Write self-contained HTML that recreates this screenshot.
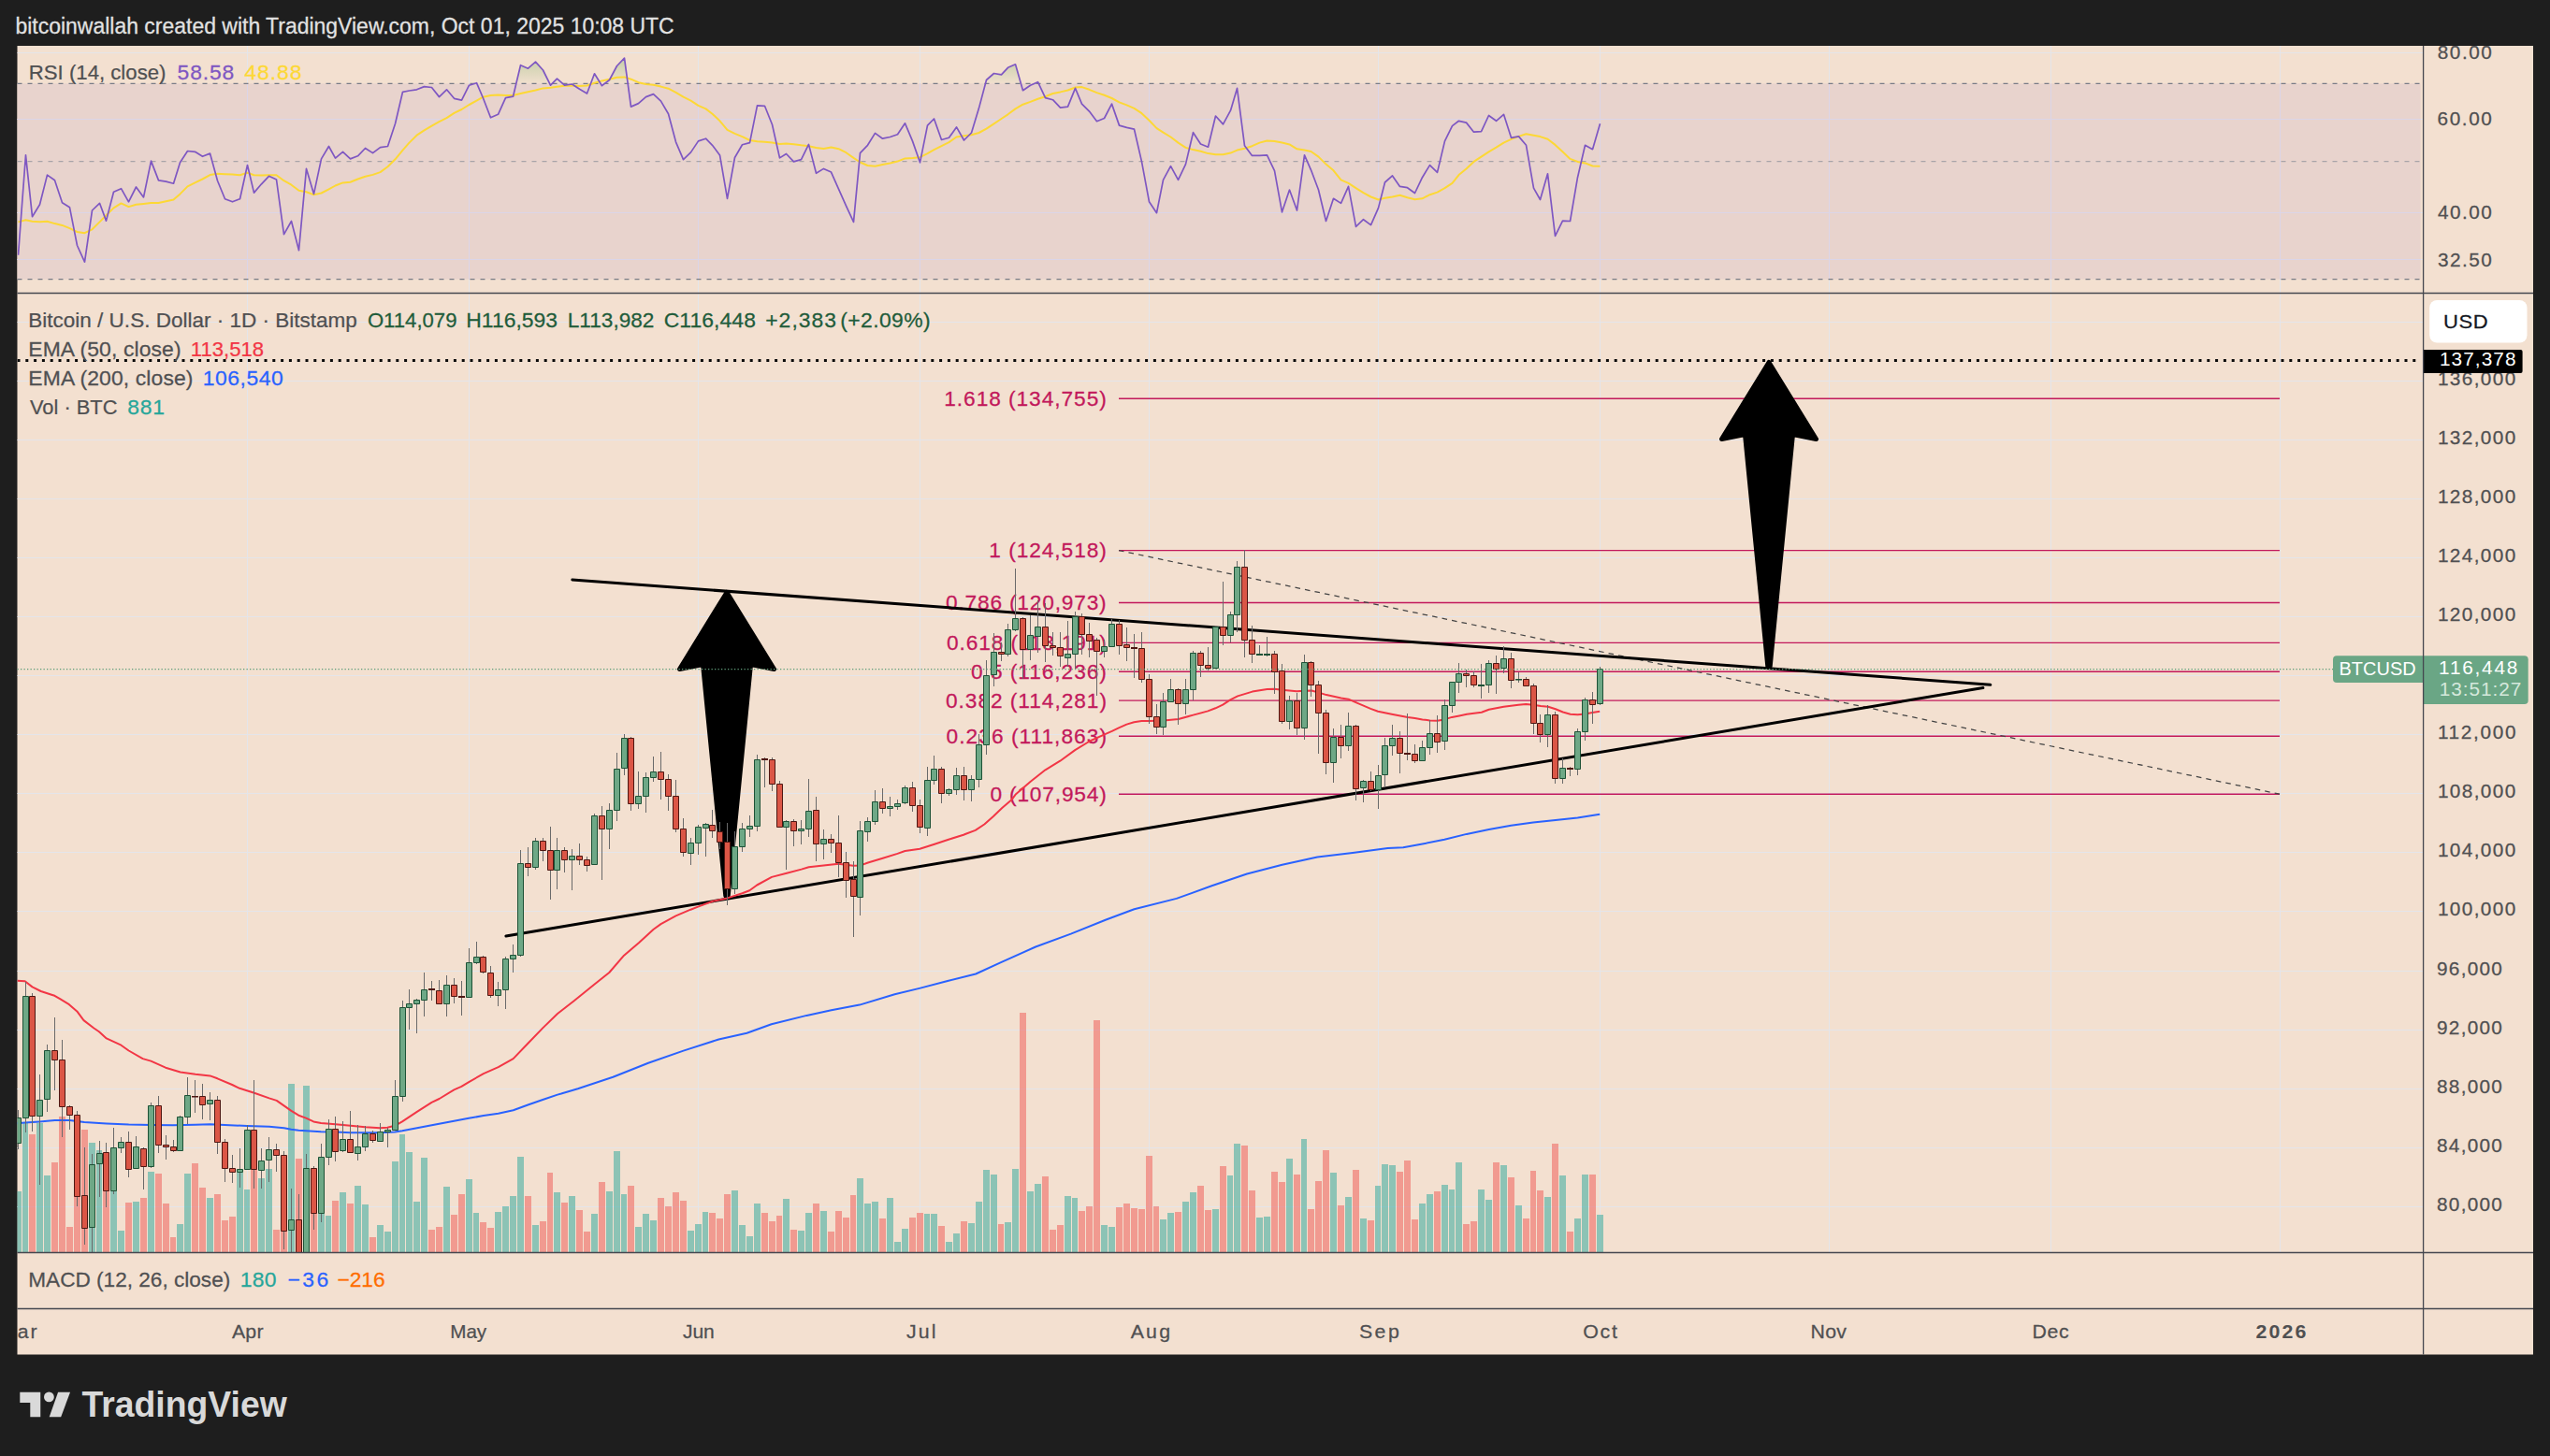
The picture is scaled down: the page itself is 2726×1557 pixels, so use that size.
<!DOCTYPE html>
<html lang="en"><head><meta charset="utf-8"><title>BTCUSD chart</title>
<style>
html,body{margin:0;padding:0;background:#1e1e1e;}
body{width:2726px;height:1557px;position:relative;overflow:hidden;}
svg{position:absolute;left:0;top:0;display:block;}
</style></head><body>
<svg width="2726" height="1557" viewBox="0 0 2726 1557" font-family="'Liberation Sans', Arial, sans-serif">
<defs><clipPath id="cm"><rect x="18.5" y="313.5" width="2572.1" height="1026.0"/></clipPath><clipPath id="cr"><rect x="18.5" y="49" width="2572.1" height="264.5"/></clipPath><clipPath id="cc"><rect x="18.5" y="49" width="2689.5" height="1399.5"/></clipPath></defs>
<rect x="18.5" y="49" width="2689.5" height="1399.5" fill="#f3e0d0"/>
<path d="M264.5 49V313.5M264.5 314.5V1339.5M501.5 49V313.5M501.5 314.5V1339.5M746.5 49V313.5M746.5 314.5V1339.5M983.5 49V313.5M983.5 314.5V1339.5M1228.5 49V313.5M1228.5 314.5V1339.5M1473.5 49V313.5M1473.5 314.5V1339.5M1710.5 49V313.5M1710.5 314.5V1339.5M1955.5 49V313.5M1955.5 314.5V1339.5M2192.5 49V313.5M2192.5 314.5V1339.5M2437.5 49V313.5M2437.5 314.5V1339.5M18.5 1290.5H2590.6M18.5 1227.5H2590.6M18.5 1164.5H2590.6M18.5 1101.5H2590.6M18.5 1038.5H2590.6M18.5 974.5H2590.6M18.5 911.5H2590.6M18.5 848.5H2590.6M18.5 785.5H2590.6M18.5 722.5H2590.6M18.5 659.5H2590.6M18.5 596.5H2590.6M18.5 533.5H2590.6M18.5 470.5H2590.6M18.5 407.5H2590.6M18.5 344.5H2590.6M18.5 56.5H2590.6M18.5 127.5H2590.6M18.5 227.5H2590.6M18.5 277.5H2590.6" stroke="#e4e5ea" stroke-width="1" fill="none"/>
<rect x="18.5" y="89.3" width="2569.1" height="209.3" fill="#e8d3cd"/>
<path d="M264.5 89.3V298.6M501.5 89.3V298.6M746.5 89.3V298.6M983.5 89.3V298.6M1228.5 89.3V298.6M1473.5 89.3V298.6M1710.5 89.3V298.6M1955.5 89.3V298.6M2192.5 89.3V298.6M2437.5 89.3V298.6M18.5 127.5H2587.6M18.5 227.5H2587.6M18.5 277.5H2587.6" stroke="#dbd5e8" stroke-width="1" fill="none"/>
<path d="M18.5 89.3H2587.6M18.5 298.6H2587.6" stroke="#787b86" stroke-width="1.3" stroke-dasharray="5 6" fill="none"/>
<path d="M18.5 172.6H2587.6" stroke="#a8a4a8" stroke-width="1.3" stroke-dasharray="5 6" fill="none"/>
<defs><clipPath id="ob"><rect x="18.5" y="49" width="2570" height="40.3"/></clipPath><linearGradient id="obg" x1="0" y1="56" x2="0" y2="89.3" gradientUnits="userSpaceOnUse"><stop offset="0" stop-color="#6fae5c" stop-opacity="0.42"/><stop offset="1" stop-color="#6fae5c" stop-opacity="0.02"/></linearGradient></defs><g clip-path="url(#cr)"><path d="M19.5 272.7L27.5 165.9L34.5 231.7L42.5 218.8L50.5 187.1L58.5 192.7L66.5 216.7L74.5 221.8L82.5 262.5L90.5 280.1L98.5 225.0L106.5 217.3L113.5 236.1L121.5 205.2L129.5 201.7L137.5 215.8L145.5 200.0L153.5 210.9L161.5 172.1L169.5 192.9L177.5 194.1L185.5 196.2L192.5 173.8L200.5 161.5L208.5 162.3L216.5 167.3L224.5 164.1L232.5 193.2L240.5 212.7L248.5 215.8L256.5 212.7L264.5 176.5L271.5 206.1L279.5 196.8L287.5 188.3L295.5 192.0L303.5 250.6L311.5 236.5L319.5 267.7L327.5 180.4L335.5 207.4L343.5 169.9L351.5 156.5L358.5 169.1L366.5 162.3L374.5 169.9L382.5 166.8L390.5 158.5L398.5 163.6L406.5 157.6L414.5 156.5L422.5 132.3L430.5 98.3L437.5 97.0L445.5 95.8L453.5 92.6L461.5 93.5L469.5 103.6L477.5 95.8L485.5 105.3L493.5 107.1L501.5 91.2L509.5 88.7L516.5 105.0L524.5 125.8L532.5 122.3L540.5 104.6L548.5 103.2L556.5 69.7L564.5 73.2L572.5 66.1L580.5 75.0L588.5 91.2L595.5 84.1L603.5 91.2L611.5 90.0L619.5 95.3L627.5 100.0L635.5 78.8L643.5 91.7L651.5 85.5L659.5 70.5L667.5 62.2L674.5 114.1L682.5 110.6L690.5 103.6L698.5 100.6L706.5 108.1L714.5 121.7L722.5 151.8L730.5 170.6L738.5 162.9L746.5 150.9L754.5 148.2L761.5 155.3L769.5 165.9L777.5 212.3L785.5 168.5L793.5 154.8L801.5 152.6L809.5 112.9L817.5 113.3L825.5 133.2L833.5 168.9L840.5 164.5L848.5 172.9L856.5 170.6L864.5 154.4L872.5 185.3L880.5 180.4L888.5 184.1L896.5 202.1L904.5 220.1L912.5 237.4L919.5 163.6L927.5 155.3L935.5 142.4L943.5 148.2L951.5 146.5L959.5 143.8L967.5 131.8L975.5 150.9L983.5 173.8L991.5 134.1L998.5 127.0L1006.5 149.5L1014.5 147.3L1022.5 135.9L1030.5 150.0L1038.5 142.0L1046.5 115.6L1054.5 85.5L1062.5 78.5L1070.5 79.9L1077.5 72.3L1085.5 68.8L1093.5 96.7L1101.5 91.2L1109.5 87.7L1117.5 104.6L1125.5 106.7L1133.5 115.2L1141.5 114.1L1149.5 94.4L1156.5 111.1L1164.5 119.1L1172.5 129.7L1180.5 126.5L1188.5 111.1L1196.5 134.1L1204.5 136.4L1212.5 138.2L1220.5 172.9L1228.5 215.8L1236.5 227.7L1243.5 192.4L1251.5 177.7L1259.5 192.4L1267.5 175.6L1275.5 141.7L1283.5 154.0L1291.5 157.2L1299.5 124.0L1307.5 132.9L1315.5 118.2L1322.5 94.4L1330.5 155.8L1338.5 166.4L1346.5 166.4L1354.5 165.9L1362.5 182.6L1370.5 226.8L1378.5 203.0L1386.5 225.0L1394.5 165.9L1401.5 181.8L1409.5 203.0L1417.5 236.5L1425.5 212.3L1433.5 217.4L1441.5 199.4L1449.5 242.3L1457.5 234.7L1465.5 240.6L1473.5 222.4L1480.5 195.0L1488.5 187.9L1496.5 199.4L1504.5 200.7L1512.5 206.5L1520.5 189.7L1528.5 176.6L1536.5 184.4L1544.5 150.9L1552.5 134.6L1559.5 129.3L1567.5 131.1L1575.5 141.2L1583.5 140.6L1591.5 123.5L1599.5 129.3L1607.5 122.3L1615.5 147.3L1623.5 145.9L1631.5 155.3L1639.5 201.2L1646.5 213.5L1654.5 185.8L1662.5 252.4L1670.5 236.1L1678.5 236.5L1686.5 189.7L1694.5 155.3L1702.5 159.7L1710.5 132.3L1710.5 89.3L19.5 89.3Z" fill="url(#obg)" clip-path="url(#ob)"/><path d="M19.5 237.4L27.5 235.3L34.5 236.7L42.5 237.2L50.5 236.7L58.5 239.1L66.5 240.9L74.5 244.1L82.5 248.0L90.5 249.2L98.5 245.3L106.5 237.4L113.5 230.3L121.5 222.4L129.5 217.4L137.5 221.1L145.5 218.8L153.5 218.0L161.5 217.1L169.5 217.1L177.5 215.3L185.5 213.5L192.5 207.4L200.5 199.4L208.5 195.4L216.5 191.5L224.5 187.1L232.5 185.8L240.5 186.2L248.5 186.5L256.5 187.2L264.5 184.8L271.5 187.2L279.5 187.6L287.5 187.2L295.5 187.2L303.5 193.2L311.5 197.7L319.5 203.8L327.5 205.2L335.5 208.2L343.5 206.5L351.5 202.4L358.5 198.5L366.5 195.4L374.5 194.7L382.5 191.5L390.5 188.8L398.5 186.9L406.5 184.1L414.5 178.2L422.5 170.3L430.5 160.6L437.5 152.6L445.5 144.7L453.5 139.4L461.5 134.6L469.5 130.2L477.5 126.2L485.5 120.9L493.5 117.0L501.5 112.0L509.5 107.6L516.5 103.7L524.5 102.0L532.5 101.4L540.5 102.0L548.5 102.0L556.5 100.0L564.5 98.3L572.5 96.5L580.5 94.4L588.5 93.8L595.5 92.8L603.5 91.7L611.5 91.5L619.5 91.9L627.5 91.5L635.5 88.7L643.5 86.4L651.5 84.7L659.5 82.7L667.5 82.4L674.5 84.7L682.5 88.2L690.5 90.0L698.5 90.8L706.5 92.6L714.5 94.7L722.5 98.8L730.5 103.7L738.5 107.6L746.5 112.9L754.5 116.4L761.5 121.7L769.5 129.3L777.5 138.9L785.5 142.9L793.5 146.1L801.5 150.0L809.5 151.2L817.5 151.8L825.5 152.6L833.5 153.9L840.5 153.5L848.5 154.2L856.5 155.3L864.5 156.2L872.5 157.9L880.5 159.0L888.5 157.4L896.5 159.2L904.5 163.2L912.5 168.9L919.5 173.5L927.5 177.0L935.5 177.7L943.5 175.9L951.5 174.4L959.5 172.6L967.5 169.4L975.5 168.9L983.5 168.2L991.5 164.1L998.5 160.1L1006.5 156.2L1014.5 152.1L1022.5 146.5L1030.5 145.2L1038.5 144.2L1046.5 142.0L1054.5 137.6L1062.5 132.3L1070.5 127.0L1077.5 122.3L1085.5 116.4L1093.5 111.7L1101.5 108.9L1109.5 105.8L1117.5 103.2L1125.5 100.0L1133.5 98.4L1141.5 96.5L1149.5 93.5L1156.5 93.1L1164.5 95.8L1172.5 99.1L1180.5 101.8L1188.5 105.0L1196.5 109.4L1204.5 112.4L1212.5 115.9L1220.5 121.2L1228.5 128.8L1236.5 137.1L1243.5 141.7L1251.5 146.5L1259.5 152.6L1267.5 157.9L1275.5 160.1L1283.5 161.8L1291.5 164.1L1299.5 165.3L1307.5 165.3L1315.5 163.6L1322.5 160.6L1330.5 158.8L1338.5 156.2L1346.5 152.6L1354.5 150.5L1362.5 150.9L1370.5 152.6L1378.5 154.4L1386.5 159.3L1394.5 160.6L1401.5 162.0L1409.5 167.6L1417.5 175.6L1425.5 182.3L1433.5 192.4L1441.5 195.9L1449.5 201.2L1457.5 206.1L1465.5 210.5L1473.5 213.5L1480.5 211.8L1488.5 210.5L1496.5 208.8L1504.5 211.3L1512.5 213.2L1520.5 212.3L1528.5 208.2L1536.5 205.6L1544.5 201.2L1552.5 195.9L1559.5 187.1L1567.5 180.5L1575.5 172.9L1583.5 167.6L1591.5 162.3L1599.5 157.6L1607.5 152.6L1615.5 148.8L1623.5 145.9L1631.5 143.3L1639.5 144.7L1646.5 146.1L1654.5 148.8L1662.5 154.9L1670.5 162.3L1678.5 169.9L1686.5 172.9L1694.5 174.4L1702.5 177.5L1710.5 177.7" stroke="#fdd835" stroke-width="2" fill="none" stroke-linejoin="round"/><path d="M19.5 272.7L27.5 165.9L34.5 231.7L42.5 218.8L50.5 187.1L58.5 192.7L66.5 216.7L74.5 221.8L82.5 262.5L90.5 280.1L98.5 225.0L106.5 217.3L113.5 236.1L121.5 205.2L129.5 201.7L137.5 215.8L145.5 200.0L153.5 210.9L161.5 172.1L169.5 192.9L177.5 194.1L185.5 196.2L192.5 173.8L200.5 161.5L208.5 162.3L216.5 167.3L224.5 164.1L232.5 193.2L240.5 212.7L248.5 215.8L256.5 212.7L264.5 176.5L271.5 206.1L279.5 196.8L287.5 188.3L295.5 192.0L303.5 250.6L311.5 236.5L319.5 267.7L327.5 180.4L335.5 207.4L343.5 169.9L351.5 156.5L358.5 169.1L366.5 162.3L374.5 169.9L382.5 166.8L390.5 158.5L398.5 163.6L406.5 157.6L414.5 156.5L422.5 132.3L430.5 98.3L437.5 97.0L445.5 95.8L453.5 92.6L461.5 93.5L469.5 103.6L477.5 95.8L485.5 105.3L493.5 107.1L501.5 91.2L509.5 88.7L516.5 105.0L524.5 125.8L532.5 122.3L540.5 104.6L548.5 103.2L556.5 69.7L564.5 73.2L572.5 66.1L580.5 75.0L588.5 91.2L595.5 84.1L603.5 91.2L611.5 90.0L619.5 95.3L627.5 100.0L635.5 78.8L643.5 91.7L651.5 85.5L659.5 70.5L667.5 62.2L674.5 114.1L682.5 110.6L690.5 103.6L698.5 100.6L706.5 108.1L714.5 121.7L722.5 151.8L730.5 170.6L738.5 162.9L746.5 150.9L754.5 148.2L761.5 155.3L769.5 165.9L777.5 212.3L785.5 168.5L793.5 154.8L801.5 152.6L809.5 112.9L817.5 113.3L825.5 133.2L833.5 168.9L840.5 164.5L848.5 172.9L856.5 170.6L864.5 154.4L872.5 185.3L880.5 180.4L888.5 184.1L896.5 202.1L904.5 220.1L912.5 237.4L919.5 163.6L927.5 155.3L935.5 142.4L943.5 148.2L951.5 146.5L959.5 143.8L967.5 131.8L975.5 150.9L983.5 173.8L991.5 134.1L998.5 127.0L1006.5 149.5L1014.5 147.3L1022.5 135.9L1030.5 150.0L1038.5 142.0L1046.5 115.6L1054.5 85.5L1062.5 78.5L1070.5 79.9L1077.5 72.3L1085.5 68.8L1093.5 96.7L1101.5 91.2L1109.5 87.7L1117.5 104.6L1125.5 106.7L1133.5 115.2L1141.5 114.1L1149.5 94.4L1156.5 111.1L1164.5 119.1L1172.5 129.7L1180.5 126.5L1188.5 111.1L1196.5 134.1L1204.5 136.4L1212.5 138.2L1220.5 172.9L1228.5 215.8L1236.5 227.7L1243.5 192.4L1251.5 177.7L1259.5 192.4L1267.5 175.6L1275.5 141.7L1283.5 154.0L1291.5 157.2L1299.5 124.0L1307.5 132.9L1315.5 118.2L1322.5 94.4L1330.5 155.8L1338.5 166.4L1346.5 166.4L1354.5 165.9L1362.5 182.6L1370.5 226.8L1378.5 203.0L1386.5 225.0L1394.5 165.9L1401.5 181.8L1409.5 203.0L1417.5 236.5L1425.5 212.3L1433.5 217.4L1441.5 199.4L1449.5 242.3L1457.5 234.7L1465.5 240.6L1473.5 222.4L1480.5 195.0L1488.5 187.9L1496.5 199.4L1504.5 200.7L1512.5 206.5L1520.5 189.7L1528.5 176.6L1536.5 184.4L1544.5 150.9L1552.5 134.6L1559.5 129.3L1567.5 131.1L1575.5 141.2L1583.5 140.6L1591.5 123.5L1599.5 129.3L1607.5 122.3L1615.5 147.3L1623.5 145.9L1631.5 155.3L1639.5 201.2L1646.5 213.5L1654.5 185.8L1662.5 252.4L1670.5 236.1L1678.5 236.5L1686.5 189.7L1694.5 155.3L1702.5 159.7L1710.5 132.3" stroke="#7e57c2" stroke-width="1.7" fill="none" stroke-linejoin="round"/></g>
<g clip-path="url(#cm)">
<path d="M1196 426.2H2437M1196 588.6H2437M1196 644.5H2437M1196 687.4H2437M1196 718.2H2437M1196 749.1H2437M1196 787.2H2437M1196 849.2H2437" stroke="#c2185b" stroke-width="1.4" fill="none"/>
<text transform="translate(1009.3 433.9) scale(1.0500 1)" font-size="21.6" fill="#c2185b" stroke="#c2185b" stroke-width="0.25" textLength="165.2" lengthAdjust="spacing">1.618 (134,755)</text>
<text transform="translate(1057.3 596.3) scale(1.0500 1)" font-size="21.6" fill="#c2185b" stroke="#c2185b" stroke-width="0.25" textLength="119.6" lengthAdjust="spacing">1 (124,518)</text>
<text transform="translate(1011.0 652.2) scale(1.0500 1)" font-size="21.6" fill="#c2185b" stroke="#c2185b" stroke-width="0.25" textLength="163.5" lengthAdjust="spacing">0.786 (120,973)</text>
<text transform="translate(1012.1 695.1) scale(1.0500 1)" font-size="21.6" fill="#c2185b" stroke="#c2185b" stroke-width="0.25" textLength="162.6" lengthAdjust="spacing">0.618 (118,191)</text>
<text transform="translate(1038.1 725.9) scale(1.0500 1)" font-size="21.6" fill="#c2185b" stroke="#c2185b" stroke-width="0.25" textLength="137.9" lengthAdjust="spacing">0.5 (116,236)</text>
<text transform="translate(1011.0 756.8) scale(1.0500 1)" font-size="21.6" fill="#c2185b" stroke="#c2185b" stroke-width="0.25" textLength="163.8" lengthAdjust="spacing">0.382 (114,281)</text>
<text transform="translate(1011.6 794.9) scale(1.0500 1)" font-size="21.6" fill="#c2185b" stroke="#c2185b" stroke-width="0.25" textLength="163.2" lengthAdjust="spacing">0.236 (111,863)</text>
<text transform="translate(1058.4 856.9) scale(1.0500 1)" font-size="21.6" fill="#c2185b" stroke="#c2185b" stroke-width="0.25" textLength="118.5" lengthAdjust="spacing">0 (107,954)</text>
<path d="M1196 588.6L2437 849.2" stroke="#444" stroke-width="1.25" stroke-dasharray="5.6 5.1" fill="none"/>
<path d="M18.5 385.6H2586.6" stroke="#0a0a0a" stroke-width="3" stroke-dasharray="3 5.8" fill="none"/>
<path d="M611.8 620L2127.8 732.3M540.9 1001L2119.9 735.55" stroke="#000" stroke-width="3" stroke-linecap="round" fill="none"/>
<path d="M777 633.5L827.5 715.5L802.5 710.5L778.2 958L775.8 958L751.5 710.5L726.5 715.5ZM1891 387.5L1941.5 469.5L1916.5 464.5L1892.2 712.5L1889.8 712.5L1865.5 464.5L1840.5 469.5Z" fill="#000" stroke="#000" stroke-width="5" stroke-linejoin="round"/>
</g>
<g clip-path="url(#cm)"><path d="M16.0 1274h7V1339.5h-7zM24.0 1200h6V1339.5h-6zM39.0 1201h7V1339.5h-7zM47.0 1257h7V1339.5h-7zM95.0 1222h7V1339.5h-7zM103.0 1230h6V1339.5h-6zM118.0 1262h7V1339.5h-7zM126.0 1316h7V1339.5h-7zM142.0 1285h7V1339.5h-7zM158.0 1253h7V1339.5h-7zM189.0 1309h7V1339.5h-7zM197.0 1255h7V1339.5h-7zM221.0 1281h7V1339.5h-7zM253.0 1254h7V1339.5h-7zM261.0 1272h6V1339.5h-6zM276.0 1260h7V1339.5h-7zM284.0 1250h7V1339.5h-7zM308.0 1159h7V1339.5h-7zM324.0 1161h7V1339.5h-7zM340.0 1291h7V1339.5h-7zM348.0 1300h6V1339.5h-6zM363.0 1275h7V1339.5h-7zM379.0 1268h7V1339.5h-7zM387.0 1288h7V1339.5h-7zM403.0 1310h7V1339.5h-7zM411.0 1317h7V1339.5h-7zM419.0 1242h7V1339.5h-7zM427.0 1213h6V1339.5h-6zM434.0 1232h7V1339.5h-7zM442.0 1285h7V1339.5h-7zM450.0 1238h7V1339.5h-7zM474.0 1269h7V1339.5h-7zM498.0 1261h7V1339.5h-7zM506.0 1297h6V1339.5h-6zM529.0 1296h7V1339.5h-7zM537.0 1290h7V1339.5h-7zM545.0 1279h7V1339.5h-7zM553.0 1237h7V1339.5h-7zM569.0 1310h7V1339.5h-7zM592.0 1275h7V1339.5h-7zM608.0 1279h7V1339.5h-7zM632.0 1298h7V1339.5h-7zM648.0 1274h7V1339.5h-7zM656.0 1231h7V1339.5h-7zM664.0 1277h6V1339.5h-6zM679.0 1312h7V1339.5h-7zM687.0 1298h7V1339.5h-7zM695.0 1305h7V1339.5h-7zM735.0 1316h7V1339.5h-7zM743.0 1309h7V1339.5h-7zM751.0 1296h6V1339.5h-6zM782.0 1273h7V1339.5h-7zM790.0 1310h7V1339.5h-7zM798.0 1322h7V1339.5h-7zM806.0 1287h7V1339.5h-7zM837.0 1282h7V1339.5h-7zM853.0 1316h7V1339.5h-7zM861.0 1297h7V1339.5h-7zM877.0 1295h7V1339.5h-7zM916.0 1260h7V1339.5h-7zM924.0 1287h7V1339.5h-7zM932.0 1285h7V1339.5h-7zM948.0 1281h7V1339.5h-7zM956.0 1328h7V1339.5h-7zM964.0 1314h7V1339.5h-7zM988.0 1298h6V1339.5h-6zM995.0 1298h7V1339.5h-7zM1011.0 1328h7V1339.5h-7zM1019.0 1319h7V1339.5h-7zM1035.0 1308h7V1339.5h-7zM1043.0 1285h7V1339.5h-7zM1051.0 1251h7V1339.5h-7zM1059.0 1256h7V1339.5h-7zM1074.0 1307h7V1339.5h-7zM1082.0 1250h7V1339.5h-7zM1098.0 1274h7V1339.5h-7zM1106.0 1266h7V1339.5h-7zM1138.0 1279h7V1339.5h-7zM1146.0 1281h6V1339.5h-6zM1177.0 1310h7V1339.5h-7zM1185.0 1312h7V1339.5h-7zM1240.0 1304h7V1339.5h-7zM1248.0 1297h7V1339.5h-7zM1264.0 1285h7V1339.5h-7zM1272.0 1275h7V1339.5h-7zM1296.0 1293h7V1339.5h-7zM1312.0 1257h6V1339.5h-6zM1319.0 1223h7V1339.5h-7zM1343.0 1302h7V1339.5h-7zM1351.0 1301h7V1339.5h-7zM1375.0 1239h7V1339.5h-7zM1391.0 1218h6V1339.5h-6zM1422.0 1254h7V1339.5h-7zM1438.0 1280h7V1339.5h-7zM1454.0 1303h7V1339.5h-7zM1470.0 1268h6V1339.5h-6zM1477.0 1245h7V1339.5h-7zM1485.0 1246h7V1339.5h-7zM1517.0 1287h7V1339.5h-7zM1525.0 1277h7V1339.5h-7zM1541.0 1267h7V1339.5h-7zM1549.0 1272h6V1339.5h-6zM1556.0 1243h7V1339.5h-7zM1580.0 1272h7V1339.5h-7zM1588.0 1283h7V1339.5h-7zM1604.0 1246h7V1339.5h-7zM1620.0 1289h7V1339.5h-7zM1651.0 1280h7V1339.5h-7zM1667.0 1257h7V1339.5h-7zM1683.0 1303h7V1339.5h-7zM1691.0 1256h7V1339.5h-7zM1707.0 1299h7V1339.5h-7z" fill="#26a69a" fill-opacity="0.5"/><path d="M31.0 1213h7V1339.5h-7zM55.0 1243h7V1339.5h-7zM63.0 1194h7V1339.5h-7zM71.0 1312h7V1339.5h-7zM79.0 1272h7V1339.5h-7zM87.0 1208h7V1339.5h-7zM110.0 1272h7V1339.5h-7zM134.0 1286h7V1339.5h-7zM150.0 1281h7V1339.5h-7zM166.0 1255h7V1339.5h-7zM174.0 1287h7V1339.5h-7zM182.0 1323h6V1339.5h-6zM205.0 1244h7V1339.5h-7zM213.0 1270h7V1339.5h-7zM229.0 1277h7V1339.5h-7zM237.0 1305h7V1339.5h-7zM245.0 1301h7V1339.5h-7zM268.0 1250h7V1339.5h-7zM292.0 1315h7V1339.5h-7zM300.0 1291h7V1339.5h-7zM316.0 1239h7V1339.5h-7zM332.0 1281h7V1339.5h-7zM355.0 1284h7V1339.5h-7zM371.0 1287h7V1339.5h-7zM395.0 1323h7V1339.5h-7zM458.0 1315h7V1339.5h-7zM466.0 1312h7V1339.5h-7zM482.0 1299h7V1339.5h-7zM490.0 1277h7V1339.5h-7zM513.0 1307h7V1339.5h-7zM521.0 1313h7V1339.5h-7zM561.0 1279h7V1339.5h-7zM577.0 1306h7V1339.5h-7zM585.0 1254h6V1339.5h-6zM600.0 1286h7V1339.5h-7zM616.0 1294h7V1339.5h-7zM624.0 1317h7V1339.5h-7zM640.0 1264h7V1339.5h-7zM671.0 1268h7V1339.5h-7zM703.0 1281h7V1339.5h-7zM711.0 1290h7V1339.5h-7zM719.0 1275h7V1339.5h-7zM727.0 1284h7V1339.5h-7zM758.0 1297h7V1339.5h-7zM766.0 1303h7V1339.5h-7zM774.0 1277h7V1339.5h-7zM814.0 1297h7V1339.5h-7zM822.0 1306h7V1339.5h-7zM830.0 1300h6V1339.5h-6zM845.0 1315h7V1339.5h-7zM869.0 1287h7V1339.5h-7zM885.0 1317h7V1339.5h-7zM893.0 1295h7V1339.5h-7zM901.0 1302h7V1339.5h-7zM909.0 1278h6V1339.5h-6zM940.0 1303h7V1339.5h-7zM972.0 1302h7V1339.5h-7zM980.0 1297h7V1339.5h-7zM1003.0 1311h7V1339.5h-7zM1027.0 1306h7V1339.5h-7zM1067.0 1309h6V1339.5h-6zM1090.0 1083h7V1339.5h-7zM1114.0 1258h7V1339.5h-7zM1122.0 1315h7V1339.5h-7zM1130.0 1310h7V1339.5h-7zM1153.0 1295h7V1339.5h-7zM1161.0 1290h7V1339.5h-7zM1169.0 1091h7V1339.5h-7zM1193.0 1291h7V1339.5h-7zM1201.0 1287h7V1339.5h-7zM1209.0 1292h7V1339.5h-7zM1217.0 1293h7V1339.5h-7zM1225.0 1236h7V1339.5h-7zM1233.0 1290h6V1339.5h-6zM1256.0 1296h7V1339.5h-7zM1280.0 1268h7V1339.5h-7zM1288.0 1294h7V1339.5h-7zM1304.0 1247h7V1339.5h-7zM1327.0 1225h7V1339.5h-7zM1335.0 1273h7V1339.5h-7zM1359.0 1253h7V1339.5h-7zM1367.0 1264h7V1339.5h-7zM1383.0 1256h7V1339.5h-7zM1398.0 1293h7V1339.5h-7zM1406.0 1263h7V1339.5h-7zM1414.0 1230h7V1339.5h-7zM1430.0 1289h7V1339.5h-7zM1446.0 1251h7V1339.5h-7zM1462.0 1305h7V1339.5h-7zM1493.0 1253h7V1339.5h-7zM1501.0 1241h7V1339.5h-7zM1509.0 1304h7V1339.5h-7zM1533.0 1274h7V1339.5h-7zM1564.0 1309h7V1339.5h-7zM1572.0 1306h7V1339.5h-7zM1596.0 1243h7V1339.5h-7zM1612.0 1259h7V1339.5h-7zM1628.0 1303h7V1339.5h-7zM1636.0 1252h6V1339.5h-6zM1643.0 1273h7V1339.5h-7zM1659.0 1223h7V1339.5h-7zM1675.0 1317h7V1339.5h-7zM1699.0 1256h7V1339.5h-7z" fill="#ef5350" fill-opacity="0.5"/></g>
<g clip-path="url(#cm)" fill="none" stroke-linejoin="round"><path d="M18.0 1201.3L26.8 1200.4L42.6 1199.4L58.6 1198.1L74.3 1198.1L90.1 1200.0L113.8 1201.5L137.6 1202.5L161.3 1202.9L184.9 1203.3L208.8 1202.7L224.5 1202.3L240.3 1203.1L264.0 1204.0L287.8 1204.8L303.6 1206.2L311.3 1207.7L319.2 1208.8L343.1 1210.2L358.8 1210.6L374.6 1211.2L390.4 1211.3L406.3 1211.2L422.1 1210.4L430.0 1209.2L445.8 1206.2L461.5 1203.3L485.4 1198.8L501.2 1195.8L516.9 1193.1L532.7 1190.8L548.7 1187.3L564.4 1181.5L580.2 1176.0L596.0 1170.6L600.0 1169.5L617.7 1164.2L655.3 1151.8L693.0 1136.7L730.6 1123.6L768.3 1111.5L798.4 1104.7L824.7 1095.3L862.4 1085.9L888.7 1080.3L918.9 1074.6L956.5 1063.3L982.9 1056.9L1013.0 1049.0L1043.1 1041.5L1069.5 1029.4L1107.1 1012.5L1144.8 998.6L1182.4 983.5L1212.5 972.2L1257.7 960.9L1295.4 947.3L1333.0 934.5L1370.7 924.8L1408.3 916.5L1446.0 912.0L1483.6 907.1L1500.0 906.3L1520.6 902.5L1544.2 897.7L1567.9 891.9L1591.7 887.1L1615.4 882.7L1639.0 879.4L1662.9 876.9L1686.5 874.6L1710.2 870.8" stroke="#2962ff" stroke-width="2"/><path d="M18.5 1048.8L26.7 1049.2L34.5 1055.4L43.7 1060.0L55.9 1064.0L58.4 1064.8L64.1 1068.2L73.9 1074.2L82.3 1081.4L89.5 1091.1L100.4 1099.5L105.9 1103.3L113.8 1110.4L129.5 1117.7L137.6 1123.5L152.6 1132.1L161.3 1134.6L177.0 1141.7L192.8 1146.5L208.8 1148.8L224.5 1150.4L232.4 1153.3L248.2 1160.0L256.1 1163.8L271.8 1168.7L287.8 1174.4L295.7 1176.9L311.4 1187.9L319.2 1192.7L327.1 1195.6L335.2 1199.4L343.1 1201.0L358.8 1202.3L374.6 1203.7L390.4 1205.2L406.3 1206.2L414.2 1205.8L422.1 1203.8L430.0 1199.4L445.8 1188.8L461.5 1178.8L469.6 1175.0L485.4 1165.4L493.3 1161.9L501.2 1157.1L516.9 1148.1L532.7 1141.2L548.7 1132.1L564.4 1115.8L580.2 1099.4L596.0 1084.0L614.0 1070.0L635.6 1052.5L651.3 1040.0L667.1 1021.7L682.9 1008.3L698.7 993.8L706.5 988.1L722.5 979.4L738.3 972.7L746.2 969.6L761.9 963.8L777.7 960.4L793.5 955.2L801.3 952.3L809.2 946.5L825.0 937.9L841.0 933.7L856.7 929.6L864.6 927.3L880.4 925.4L896.3 923.8L904.2 924.8L912.1 925.8L920.0 925.4L927.9 922.5L943.7 917.7L959.4 912.9L967.5 910.0L983.3 907.7L999.0 902.7L1014.8 897.5L1030.0 892.7L1033.1 891.5L1042.7 887.9L1052.3 881.5L1061.9 872.9L1071.5 863.8L1081.2 855.6L1086.0 849.2L1101.7 835.8L1117.5 823.3L1133.3 813.7L1149.2 802.1L1165.0 792.5L1180.8 785.4L1188.7 781.9L1196.5 778.1L1204.4 774.6L1212.3 772.3L1220.4 771.0L1228.3 771.0L1244.0 770.4L1259.8 769.0L1275.6 764.6L1291.3 760.4L1299.4 757.3L1307.2 753.6L1315.2 748.3L1323.1 744.4L1338.8 739.6L1354.6 737.1L1362.5 736.7L1370.4 737.7L1386.2 739.2L1394.0 738.8L1402.1 738.5L1410.0 740.6L1417.9 743.1L1433.7 746.5L1441.5 747.7L1449.4 751.2L1465.2 757.9L1473.1 760.8L1489.0 764.0L1504.8 766.9L1512.5 767.9L1520.6 769.4L1528.5 770.4L1536.3 770.8L1544.2 769.4L1552.1 766.9L1560.0 765.4L1568.1 763.7L1575.8 762.7L1583.8 761.7L1591.7 758.8L1607.5 755.8L1623.3 753.8L1631.2 753.1L1639.0 753.8L1647.1 755.0L1655.0 755.8L1662.9 758.3L1670.8 761.5L1678.7 763.7L1686.5 764.2L1694.4 763.5L1702.3 762.1L1710.2 760.8" stroke="#f23645" stroke-width="2"/></g>
<g clip-path="url(#cm)"><path d="M19.5 1187V1229M27.5 1050V1211M34.5 1062V1210M42.5 1149V1267M50.5 1117V1189M58.5 1088V1166M66.5 1112V1216M74.5 1182V1208M82.5 1188V1290M90.5 1227V1331M98.5 1234V1339M106.5 1220V1280M113.5 1222V1291M121.5 1206V1277M129.5 1216V1233M137.5 1210V1259M145.5 1215V1250M153.5 1227V1272M161.5 1179V1249M169.5 1172V1233M177.5 1214V1240M185.5 1219V1232M192.5 1193V1230M200.5 1152V1202M208.5 1155V1190M216.5 1159V1197M224.5 1168V1198M232.5 1172V1234M240.5 1218V1264M248.5 1235V1265M256.5 1228V1270M264.5 1203V1251M271.5 1155V1271M279.5 1228V1271M287.5 1216V1264M295.5 1223V1253M303.5 1231V1336M311.5 1271V1345M319.5 1277V1348M327.5 1234V1348M335.5 1247V1315M343.5 1223V1307M351.5 1197V1246M358.5 1194V1242M366.5 1199V1232M374.5 1188V1233M382.5 1203V1241M390.5 1204V1231M398.5 1209V1222M406.5 1201V1221M414.5 1206V1227M422.5 1155V1208M430.5 1070V1178M437.5 1058V1101M445.5 1068V1105M453.5 1040V1087M461.5 1049V1070M469.5 1048V1073M477.5 1043V1087M485.5 1046V1073M493.5 1049V1086M501.5 1014V1067M509.5 1007V1031M516.5 1022V1041M524.5 1033V1067M532.5 1050V1076M540.5 1023V1079M548.5 1010V1040M556.5 909V1023M564.5 906V937M572.5 896V930M580.5 896V921M588.5 884V962M595.5 896V951M603.5 906V933M611.5 908V952M619.5 902V925M627.5 916V932M635.5 870V925M643.5 862V941M651.5 859V908M659.5 805V878M667.5 785V829M674.5 788V867M682.5 825V865M690.5 826V869M698.5 809V836M706.5 804V855M714.5 828V867M722.5 834V890M730.5 875V916M738.5 896V925M746.5 882V914M754.5 880V916M761.5 866V896M769.5 879V908M777.5 880V968M785.5 889V956M793.5 880V911M801.5 872V895M809.5 807V889M817.5 810V842M825.5 810V846M833.5 835V885M840.5 877V930M848.5 876V905M856.5 877V903M864.5 833V895M872.5 852V921M880.5 887V919M888.5 892V912M896.5 872V938M904.5 911V960M912.5 921V1002M919.5 878V979M927.5 874V900M935.5 845V882M943.5 843V870M951.5 852V873M959.5 855V866M967.5 840V860M975.5 836V868M983.5 855V891M991.5 820V894M998.5 808V839M1006.5 820V859M1014.5 843V851M1022.5 821V850M1030.5 820V856M1038.5 829V857M1046.5 785V842M1054.5 706V807M1062.5 677V734M1070.5 687V707M1077.5 667V702M1085.5 608V675M1093.5 660V726M1101.5 658V706M1109.5 642V698M1117.5 645V708M1125.5 676V701M1133.5 676V713M1141.5 664V713M1149.5 654V715M1156.5 656V700M1164.5 666V703M1172.5 682V744M1180.5 684V703M1188.5 662V692M1196.5 663V700M1204.5 671V707M1212.5 678V725M1220.5 676V730M1228.5 721V774M1236.5 753V785M1243.5 741V786M1251.5 726V751M1259.5 736V775M1267.5 726V764M1275.5 696V749M1283.5 696V724M1291.5 692V717M1299.5 669V715M1307.5 622V690M1315.5 654V687M1322.5 600V676M1330.5 588V703M1338.5 669V709M1346.5 690V701M1354.5 681V702M1362.5 696V742M1370.5 710V774M1378.5 744V780M1386.5 741V786M1394.5 700V791M1401.5 707V745M1409.5 728V806M1417.5 759V828M1425.5 779V837M1433.5 775V811M1441.5 762V803M1449.5 775V856M1457.5 834V858M1465.5 825V846M1473.5 818V865M1480.5 789V842M1488.5 775V808M1496.5 782V827M1504.5 763V813M1512.5 796V816M1520.5 792V814M1528.5 770V807M1536.5 765V805M1544.5 748V802M1552.5 729V762M1559.5 709V741M1567.5 716V735M1575.5 718V735M1583.5 710V747M1591.5 706V741M1599.5 701V742M1607.5 691V720M1615.5 698V736M1623.5 719V730M1631.5 724V734M1639.5 731V785M1646.5 764V794M1654.5 754V799M1662.5 761V838M1670.5 811V838M1678.5 820V830M1686.5 779V829M1694.5 746V792M1702.5 740V774M1710.5 713V754" stroke="#6a6a6a" stroke-width="1" fill="none"/><path d="M16.5 1195.5h6v27.0h-6zM24.5 1065.5h6v130.0h-6zM39.5 1176.5h6v17.0h-6zM47.5 1123.5h6v52.0h-6zM95.5 1245.5h6v67.0h-6zM103.5 1233.5h6v11.0h-6zM118.5 1227.5h6v46.0h-6zM126.5 1221.5h6v6.0h-6zM142.5 1226.5h6v23.0h-6zM158.5 1182.5h6v65.0h-6zM189.5 1194.5h6v36.0h-6zM197.5 1171.5h6v23.0h-6zM221.5 1176.5h6v4.0h-6zM253.5 1250.5h6v3.0h-6zM261.5 1208.5h6v42.0h-6zM276.5 1241.5h6v10.0h-6zM284.5 1229.5h6v11.0h-6zM308.5 1304.5h6v11.0h-6zM324.5 1249.5h6v99.0h-6zM340.5 1237.5h6v60.0h-6zM348.5 1207.5h6v30.0h-6zM363.5 1218.5h6v12.0h-6zM379.5 1226.5h6v7.0h-6zM387.5 1212.5h6v14.0h-6zM403.5 1210.5h6v10.0h-6zM411.5 1208.5h6v2.0h-6zM419.5 1172.5h6v36.0h-6zM427.5 1077.5h6v95.0h-6zM434.5 1073.5h6v4.0h-6zM442.5 1069.5h6v4.0h-6zM450.5 1058.5h6v11.0h-6zM474.5 1053.5h6v20.0h-6zM498.5 1029.5h6v37.0h-6zM506.5 1023.5h6v6.0h-6zM529.5 1058.5h6v6.0h-6zM537.5 1025.5h6v33.0h-6zM545.5 1021.5h6v4.0h-6zM553.5 923.5h6v98.0h-6zM569.5 899.5h6v28.0h-6zM592.5 909.5h6v21.0h-6zM608.5 915.5h6v4.0h-6zM632.5 872.5h6v52.0h-6zM648.5 866.5h6v20.0h-6zM656.5 822.5h6v44.0h-6zM664.5 789.5h6v32.0h-6zM679.5 851.5h6v8.0h-6zM687.5 831.5h6v20.0h-6zM695.5 825.5h6v6.0h-6zM735.5 901.5h6v11.0h-6zM743.5 884.5h6v17.0h-6zM751.5 881.5h6v4.0h-6zM782.5 905.5h6v45.0h-6zM790.5 886.5h6v19.0h-6zM798.5 883.5h6v3.0h-6zM806.5 812.5h6v71.0h-6zM837.5 878.5h6v6.0h-6zM853.5 886.5h6v2.0h-6zM861.5 867.5h6v19.0h-6zM877.5 897.5h6v5.0h-6zM916.5 888.5h6v71.0h-6zM924.5 878.5h6v11.0h-6zM932.5 857.5h6v21.0h-6zM948.5 862.5h6v2.0h-6zM956.5 859.5h6v3.0h-6zM964.5 842.5h6v16.0h-6zM988.5 834.5h6v51.0h-6zM995.5 822.5h6v12.0h-6zM1011.5 844.5h6v4.0h-6zM1019.5 829.5h6v15.0h-6zM1035.5 833.5h6v11.0h-6zM1043.5 796.5h6v37.0h-6zM1051.5 722.5h6v74.0h-6zM1059.5 697.5h6v24.0h-6zM1074.5 673.5h6v26.0h-6zM1082.5 661.5h6v12.0h-6zM1098.5 679.5h6v15.0h-6zM1106.5 670.5h6v10.0h-6zM1138.5 699.5h6v4.0h-6zM1146.5 659.5h6v40.0h-6zM1177.5 691.5h6v5.0h-6zM1185.5 667.5h6v24.0h-6zM1240.5 750.5h6v27.0h-6zM1248.5 737.5h6v13.0h-6zM1264.5 737.5h6v15.0h-6zM1272.5 698.5h6v39.0h-6zM1296.5 670.5h6v44.0h-6zM1312.5 657.5h6v22.0h-6zM1319.5 606.5h6v51.0h-6zM1375.5 749.5h6v22.0h-6zM1391.5 708.5h6v70.0h-6zM1422.5 788.5h6v27.0h-6zM1438.5 776.5h6v21.0h-6zM1454.5 835.5h6v7.0h-6zM1470.5 829.5h6v15.0h-6zM1477.5 797.5h6v31.0h-6zM1485.5 789.5h6v8.0h-6zM1517.5 799.5h6v14.0h-6zM1525.5 784.5h6v15.0h-6zM1541.5 754.5h6v38.0h-6zM1549.5 729.5h6v25.0h-6zM1556.5 720.5h6v9.0h-6zM1588.5 709.5h6v23.0h-6zM1604.5 704.5h6v10.0h-6zM1651.5 764.5h6v21.0h-6zM1667.5 821.5h6v11.0h-6zM1683.5 782.5h6v40.0h-6zM1691.5 748.5h6v34.0h-6zM1707.5 715.5h6v37.0h-6z" fill="#6ea886" stroke="#1d5236" stroke-width="1"/><path d="M31.5 1065.5h6v128.0h-6zM55.5 1123.5h6v10.0h-6zM63.5 1133.5h6v50.0h-6zM71.5 1183.5h6v9.0h-6zM79.5 1192.5h6v87.0h-6zM87.5 1278.5h6v35.0h-6zM110.5 1232.5h6v41.0h-6zM134.5 1221.5h6v29.0h-6zM150.5 1228.5h6v19.0h-6zM166.5 1182.5h6v42.0h-6zM174.5 1224.5h6v2.0h-6zM182.5 1226.5h6v4.0h-6zM213.5 1172.5h6v9.0h-6zM229.5 1176.5h6v45.0h-6zM237.5 1221.5h6v28.0h-6zM245.5 1249.5h6v4.0h-6zM268.5 1208.5h6v42.0h-6zM292.5 1229.5h6v6.0h-6zM300.5 1235.5h6v81.0h-6zM316.5 1304.5h6v44.0h-6zM332.5 1249.5h6v48.0h-6zM355.5 1207.5h6v24.0h-6zM371.5 1218.5h6v14.0h-6zM395.5 1212.5h6v7.0h-6zM466.5 1059.5h6v14.0h-6zM482.5 1053.5h6v12.0h-6zM513.5 1023.5h6v16.0h-6zM521.5 1040.5h6v24.0h-6zM561.5 923.5h6v4.0h-6zM577.5 899.5h6v10.0h-6zM585.5 909.5h6v21.0h-6zM600.5 909.5h6v10.0h-6zM616.5 915.5h6v4.0h-6zM624.5 919.5h6v6.0h-6zM640.5 872.5h6v14.0h-6zM671.5 789.5h6v70.0h-6zM703.5 825.5h6v8.0h-6zM711.5 833.5h6v18.0h-6zM719.5 851.5h6v35.0h-6zM727.5 886.5h6v25.0h-6zM758.5 882.5h6v6.0h-6zM766.5 889.5h6v11.0h-6zM774.5 900.5h6v50.0h-6zM822.5 812.5h6v26.0h-6zM830.5 838.5h6v46.0h-6zM845.5 878.5h6v10.0h-6zM869.5 866.5h6v36.0h-6zM885.5 897.5h6v4.0h-6zM893.5 901.5h6v21.0h-6zM901.5 922.5h6v19.0h-6zM909.5 940.5h6v18.0h-6zM940.5 857.5h6v7.0h-6zM972.5 842.5h6v19.0h-6zM980.5 861.5h6v23.0h-6zM1003.5 822.5h6v26.0h-6zM1027.5 829.5h6v15.0h-6zM1067.5 697.5h6v2.0h-6zM1090.5 661.5h6v33.0h-6zM1114.5 670.5h6v20.0h-6zM1122.5 690.5h6v2.0h-6zM1130.5 692.5h6v9.0h-6zM1153.5 659.5h6v19.0h-6zM1161.5 678.5h6v7.0h-6zM1169.5 684.5h6v12.0h-6zM1193.5 667.5h6v23.0h-6zM1201.5 689.5h6v3.0h-6zM1217.5 693.5h6v33.0h-6zM1225.5 726.5h6v40.0h-6zM1233.5 766.5h6v11.0h-6zM1256.5 737.5h6v15.0h-6zM1280.5 698.5h6v13.0h-6zM1288.5 711.5h6v3.0h-6zM1304.5 670.5h6v9.0h-6zM1327.5 606.5h6v78.0h-6zM1335.5 684.5h6v15.0h-6zM1359.5 699.5h6v19.0h-6zM1367.5 717.5h6v54.0h-6zM1383.5 749.5h6v29.0h-6zM1398.5 708.5h6v24.0h-6zM1406.5 732.5h6v30.0h-6zM1414.5 762.5h6v53.0h-6zM1430.5 788.5h6v9.0h-6zM1446.5 776.5h6v67.0h-6zM1462.5 835.5h6v9.0h-6zM1493.5 789.5h6v16.0h-6zM1509.5 806.5h6v7.0h-6zM1533.5 784.5h6v9.0h-6zM1564.5 720.5h6v2.0h-6zM1572.5 722.5h6v10.0h-6zM1596.5 709.5h6v6.0h-6zM1612.5 704.5h6v23.0h-6zM1628.5 726.5h6v7.0h-6zM1636.5 733.5h6v40.0h-6zM1643.5 773.5h6v12.0h-6zM1659.5 764.5h6v68.0h-6zM1699.5 748.5h6v5.0h-6z" fill="#db5646" stroke="#4e1712" stroke-width="1"/><path d="M1343.0 699.0h7v2h-7zM1351.0 699.0h7v2h-7zM1580.0 732.0h7v2h-7zM1620.0 726.0h7v1.6h-7z" fill="#1d5236"/><path d="M205.0 1172.0h7v1.6h-7zM458.0 1057.0h7v2h-7zM490.0 1065.0h7v2h-7zM814.0 811.0h7v2h-7zM1209.0 692.0h7v2h-7zM1501.0 805.0h7v2h-7zM1675.0 821.0h7v2h-7z" fill="#4e1712"/></g>
<path d="M18.5 715.7H2590.6" stroke="#5f9d7a" stroke-width="1.2" stroke-dasharray="1.3 2.2" fill="none"/>
<text transform="translate(30.8 84.7) scale(1.0169 1)" font-size="21.8" fill="#505052" stroke="#505052" stroke-width="0.25" textLength="144.2" lengthAdjust="spacing">RSI (14, close)</text>
<text transform="translate(189.6 84.7) scale(1.0500 1)" font-size="21.8" fill="#7e57c2" stroke="#7e57c2" stroke-width="0.25" textLength="57.8" lengthAdjust="spacing">58.58</text>
<text transform="translate(261.3 84.7) scale(1.0500 1)" font-size="21.8" fill="#fdd835" stroke="#fdd835" stroke-width="0.25" textLength="58.2" lengthAdjust="spacing">48.88</text>
<text transform="translate(30.3 350.0) scale(1.0326 1)" font-size="21.8" fill="#505052" stroke="#505052" stroke-width="0.25" textLength="340.4" lengthAdjust="spacing">Bitcoin / U.S. Dollar · 1D · Bitstamp</text>
<text transform="translate(392.9 350.0) scale(1.0158 1)" font-size="21.8" fill="#1f5c3a" stroke="#1f5c3a" stroke-width="0.25" textLength="94.1" lengthAdjust="spacing">O114,079</text>
<text transform="translate(498.3 350.0) scale(1.0500 1)" font-size="21.8" fill="#1f5c3a" stroke="#1f5c3a" stroke-width="0.25" textLength="93.1" lengthAdjust="spacing">H116,593</text>
<text transform="translate(606.8 350.0) scale(1.0364 1)" font-size="21.8" fill="#1f5c3a" stroke="#1f5c3a" stroke-width="0.25" textLength="89.3" lengthAdjust="spacing">L113,982</text>
<text transform="translate(709.7 350.0) scale(1.0500 1)" font-size="21.8" fill="#1f5c3a" stroke="#1f5c3a" stroke-width="0.25" textLength="93.5" lengthAdjust="spacing">C116,448</text>
<text transform="translate(818.2 350.0) scale(1.0500 1)" font-size="21.8" fill="#1f5c3a" stroke="#1f5c3a" stroke-width="0.25" textLength="72.3" lengthAdjust="spacing">+2,383</text>
<text transform="translate(898.2 350.0) scale(1.0500 1)" font-size="21.8" fill="#1f5c3a" stroke="#1f5c3a" stroke-width="0.25" textLength="91.8" lengthAdjust="spacing">(+2.09%)</text>
<text transform="translate(30.3 380.8) scale(1.0500 1)" font-size="21.8" fill="#505052" stroke="#505052" stroke-width="0.25" textLength="155.5" lengthAdjust="spacing">EMA (50, close)</text>
<text transform="translate(203.8 380.8) scale(1.0133 1)" font-size="21.8" fill="#f23645" stroke="#f23645" stroke-width="0.25" textLength="77.2" lengthAdjust="spacing">113,518</text>
<text transform="translate(30.3 411.8) scale(1.0500 1)" font-size="21.8" fill="#505052" stroke="#505052" stroke-width="0.25" textLength="167.8" lengthAdjust="spacing">EMA (200, close)</text>
<text transform="translate(216.8 411.8) scale(1.0500 1)" font-size="21.8" fill="#2962ff" stroke="#2962ff" stroke-width="0.25" textLength="81.8" lengthAdjust="spacing">106,540</text>
<text transform="translate(32.0 442.6) scale(1.0016 1)" font-size="21.8" fill="#505052" stroke="#505052" stroke-width="0.25" textLength="93.3" lengthAdjust="spacing">Vol · BTC</text>
<text transform="translate(136.3 442.6) scale(1.0500 1)" font-size="21.8" fill="#26a69a" stroke="#26a69a" stroke-width="0.25" textLength="37.9" lengthAdjust="spacing">881</text>
<text transform="translate(30.3 1375.5) scale(1.0361 1)" font-size="21.8" fill="#505052" stroke="#505052" stroke-width="0.25" textLength="208.4" lengthAdjust="spacing">MACD (12, 26, close)</text>
<text transform="translate(256.7 1375.5) scale(1.0500 1)" font-size="21.8" fill="#26a69a" stroke="#26a69a" stroke-width="0.25" textLength="37.0" lengthAdjust="spacing">180</text>
<text transform="translate(307.5 1375.5) scale(1.0500 1)" font-size="21.8" fill="#2962ff" stroke="#2962ff" stroke-width="0.25" textLength="41.7" lengthAdjust="spacing">−36</text>
<text transform="translate(360.4 1375.5) scale(1.0443 1)" font-size="21.8" fill="#ff6d00" stroke="#ff6d00" stroke-width="0.25" textLength="49.1" lengthAdjust="spacing">−216</text>
<g clip-path="url(#cc)">
<text transform="translate(2605.7 63.2) scale(1.0500 1)" font-size="19.8" fill="#505052" stroke="#505052" stroke-width="0.25" textLength="55.4" lengthAdjust="spacing">80.00</text>
<text transform="translate(2605.5 133.9) scale(1.0500 1)" font-size="19.8" fill="#505052" stroke="#505052" stroke-width="0.25" textLength="55.6" lengthAdjust="spacing">60.00</text>
<text transform="translate(2606.1 234.4) scale(1.0500 1)" font-size="19.8" fill="#505052" stroke="#505052" stroke-width="0.25" textLength="54.9" lengthAdjust="spacing">40.00</text>
<text transform="translate(2605.9 284.9) scale(1.0500 1)" font-size="19.8" fill="#505052" stroke="#505052" stroke-width="0.25" textLength="55.2" lengthAdjust="spacing">32.50</text>
<text transform="translate(2605.0 1294.9) scale(1.0500 1)" font-size="19.8" fill="#505052" stroke="#505052" stroke-width="0.25" textLength="66.6" lengthAdjust="spacing">80,000</text>
<text transform="translate(2605.0 1231.9) scale(1.0500 1)" font-size="19.8" fill="#505052" stroke="#505052" stroke-width="0.25" textLength="66.6" lengthAdjust="spacing">84,000</text>
<text transform="translate(2605.0 1168.9) scale(1.0500 1)" font-size="19.8" fill="#505052" stroke="#505052" stroke-width="0.25" textLength="66.6" lengthAdjust="spacing">88,000</text>
<text transform="translate(2605.0 1105.9) scale(1.0500 1)" font-size="19.8" fill="#505052" stroke="#505052" stroke-width="0.25" textLength="66.6" lengthAdjust="spacing">92,000</text>
<text transform="translate(2605.0 1042.9) scale(1.0500 1)" font-size="19.8" fill="#505052" stroke="#505052" stroke-width="0.25" textLength="66.6" lengthAdjust="spacing">96,000</text>
<text transform="translate(2605.9 978.9) scale(1.0500 1)" font-size="19.8" fill="#505052" stroke="#505052" stroke-width="0.25" textLength="79.4" lengthAdjust="spacing">100,000</text>
<text transform="translate(2605.9 915.9) scale(1.0500 1)" font-size="19.8" fill="#505052" stroke="#505052" stroke-width="0.25" textLength="79.4" lengthAdjust="spacing">104,000</text>
<text transform="translate(2605.9 852.9) scale(1.0500 1)" font-size="19.8" fill="#505052" stroke="#505052" stroke-width="0.25" textLength="79.4" lengthAdjust="spacing">108,000</text>
<text transform="translate(2605.9 789.9) scale(1.0500 1)" font-size="19.8" fill="#505052" stroke="#505052" stroke-width="0.25" textLength="79.7" lengthAdjust="spacing">112,000</text>
<text transform="translate(2605.9 663.9) scale(1.0500 1)" font-size="19.8" fill="#505052" stroke="#505052" stroke-width="0.25" textLength="79.4" lengthAdjust="spacing">120,000</text>
<text transform="translate(2605.9 600.9) scale(1.0500 1)" font-size="19.8" fill="#505052" stroke="#505052" stroke-width="0.25" textLength="79.4" lengthAdjust="spacing">124,000</text>
<text transform="translate(2605.9 537.9) scale(1.0500 1)" font-size="19.8" fill="#505052" stroke="#505052" stroke-width="0.25" textLength="79.4" lengthAdjust="spacing">128,000</text>
<text transform="translate(2605.9 474.9) scale(1.0500 1)" font-size="19.8" fill="#505052" stroke="#505052" stroke-width="0.25" textLength="79.4" lengthAdjust="spacing">132,000</text>
<text transform="translate(2605.9 411.9) scale(1.0500 1)" font-size="19.8" fill="#505052" stroke="#505052" stroke-width="0.25" textLength="79.4" lengthAdjust="spacing">136,000</text>
</g>
<rect x="2597.2" y="321" width="104.3" height="45.6" rx="8" fill="#fff"/>
<text transform="translate(2612.0 350.7) scale(1.0500 1)" font-size="21" fill="#131722" stroke="#131722" stroke-width="0.25" textLength="45.5" lengthAdjust="spacing">USD</text>
<path d="M2590.0 374H2694.6a2 2 0 0 1 2 2V397a2 2 0 0 1-2 2H2590.0z" fill="#000"/>
<text transform="translate(2607.9 390.9) scale(1.0500 1)" font-size="19.8" fill="#fff" textLength="77.7" lengthAdjust="spacing">137,378</text>
<path d="M2498 701.3H2590.6V729.9H2498a4 4 0 0 1-4-4V705.3a4 4 0 0 1 4-4z" fill="#6aa685"/>
<path d="M2590.0 701.3H2698.7a4 4 0 0 1 4 4V748.9a4 4 0 0 1-4 4H2590.0z" fill="#6aa685"/>
<path d="M18.5 313.5H2708M18.5 1339.5H2708M18.5 1399.5H2708M2590.6 49V1448.5" stroke="#45474f" stroke-width="1.3" fill="none"/>
<text transform="translate(2500.5 721.5) scale(1.0148 1)" font-size="19.7" fill="#fff" textLength="81.0" lengthAdjust="spacing">BTCUSD</text>
<text transform="translate(2607.1 720.9) scale(1.0500 1)" font-size="19.8" fill="#fff" textLength="80.2" lengthAdjust="spacing">116,448</text>
<text transform="translate(2607.8 743.7) scale(1.0500 1)" font-size="19.8" fill="#d5e8dc" textLength="83.4" lengthAdjust="spacing">13:51:27</text>
<text transform="translate(247.9 1431.2) scale(1.0500 1)" font-size="20.3" fill="#505052" stroke="#505052" stroke-width="0.25" textLength="32.0" lengthAdjust="spacing">Apr</text>
<text transform="translate(481.2 1431.2) scale(1.0171 1)" font-size="20.3" fill="#505052" stroke="#505052" stroke-width="0.25" textLength="38.3" lengthAdjust="spacing">May</text>
<text transform="translate(729.9 1431.2) scale(1.0377 1)" font-size="20.3" fill="#505052" stroke="#505052" stroke-width="0.25" textLength="32.7" lengthAdjust="spacing">Jun</text>
<text transform="translate(968.9 1431.2) scale(1.0500 1)" font-size="20.3" fill="#505052" stroke="#505052" stroke-width="0.25" textLength="30.1" lengthAdjust="spacing">Jul</text>
<text transform="translate(1208.7 1431.2) scale(1.0500 1)" font-size="20.3" fill="#505052" stroke="#505052" stroke-width="0.25" textLength="40.3" lengthAdjust="spacing">Aug</text>
<text transform="translate(1452.9 1431.2) scale(1.0500 1)" font-size="20.3" fill="#505052" stroke="#505052" stroke-width="0.25" textLength="40.9" lengthAdjust="spacing">Sep</text>
<text transform="translate(1692.3 1431.2) scale(1.0500 1)" font-size="20.3" fill="#505052" stroke="#505052" stroke-width="0.25" textLength="34.9" lengthAdjust="spacing">Oct</text>
<text transform="translate(1935.6 1431.2) scale(1.0500 1)" font-size="20.3" fill="#505052" stroke="#505052" stroke-width="0.25" textLength="36.5" lengthAdjust="spacing">Nov</text>
<text transform="translate(2172.6 1431.2) scale(1.0500 1)" font-size="20.3" fill="#505052" stroke="#505052" stroke-width="0.25" textLength="37.1" lengthAdjust="spacing">Dec</text>
<text transform="translate(2411.4 1431.2) scale(1.0500 1)" font-size="20.3" fill="#505052" font-weight="bold" textLength="51.4" lengthAdjust="spacing">2026</text>
<g clip-path="url(#cc)"><text transform="translate(-0.7 1431.2) scale(1.0500 1)" font-size="20.3" fill="#505052" stroke="#505052" stroke-width="0.25" textLength="38.3" lengthAdjust="spacing">Mar</text></g>
<text transform="translate(16.5 36.4) scale(0.9814 1)" font-size="23.4" fill="#e2e2e2" stroke="#e2e2e2" stroke-width="0.25" textLength="717.5" lengthAdjust="spacing">bitcoinwallah created with TradingView.com, Oct 01, 2025 10:08 UTC</text>
<g fill="#d9d9d9"><path d="M21.3 1488.8h21.95v26.4h-10.95v-15.1h-11z"/><circle cx="52.4" cy="1493.9" r="5.4"/><path d="M62.1 1488.8h12.9l-9.8 26.4h-12.5z"/></g>
<text transform="translate(87.5 1515.2) scale(0.9800 1)" font-size="38.1" fill="#d9d9d9" font-weight="bold" textLength="223.7" lengthAdjust="spacing">TradingView</text>
</svg>
</body></html>
